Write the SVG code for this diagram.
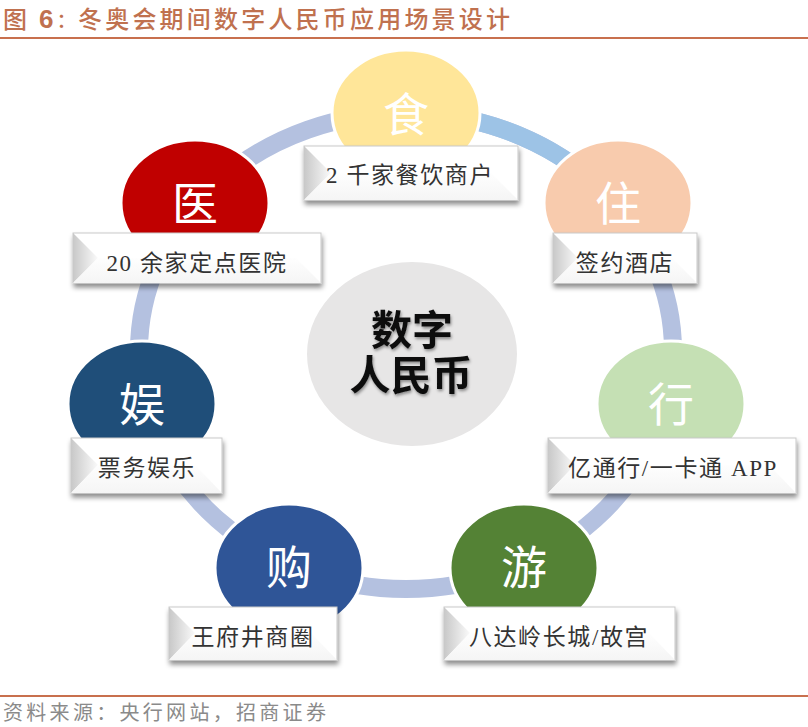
<svg xmlns="http://www.w3.org/2000/svg" width="808" height="727" viewBox="0 0 808 727">
<style>
text{font-family:"Liberation Serif","Noto Sans CJK SC",sans-serif}
.ring{fill:none;stroke:#B4C1E0;stroke-width:18}
.node{stroke:#fff;stroke-width:3}
.glyph{font-family:"Noto Sans CJK SC",sans-serif;font-size:46px;fill:#fff;text-anchor:middle}
.lab{font-size:23px;fill:#333;text-anchor:middle;letter-spacing:1.6px}
.box{fill:#fff;stroke:#c9c9c9;stroke-width:1;filter:url(#sh)}
.rule{fill:#C8704E}
</style>
<defs>
<filter id="sh" x="-10%" y="-20%" width="120%" height="150%"><feDropShadow dx="1" dy="4" stdDeviation="2.5" flood-color="#000" flood-opacity=".45"/></filter>
<filter id="ts" x="-10%" y="-10%" width="120%" height="130%"><feDropShadow dx="1" dy="2" stdDeviation="1.5" flood-color="#000" flood-opacity=".4"/></filter>
<linearGradient id="lg" x1="0" x2="1" y1="0" y2="0"><stop offset="0" stop-color="#c8c8c8"/><stop offset="1" stop-color="#fafafa"/></linearGradient>
<linearGradient id="bg" x1="0" x2="0" y1="0" y2="1"><stop offset="0" stop-color="#fefefe"/><stop offset="1" stop-color="#f5f5f5"/></linearGradient>
</defs>
<rect width="808" height="727" fill="#fff"/>
<rect class="rule" x="0" y="37" width="808" height="2"/>
<rect class="rule" x="0" y="695" width="808" height="2"/>
<text x="3" y="28" font-size="24" fill="#C0714F" font-weight="500"><tspan letter-spacing="3">图 </tspan><tspan font-family="Liberation Sans" font-size="26" font-weight="700" letter-spacing="3">6</tspan><tspan font-size="20" letter-spacing="0">：</tspan><tspan x="78" letter-spacing="3.2">冬奥会期间数字人民币应用场景设计</tspan></text>
<text x="3" y="720" font-size="20" fill="#8a8a8a" letter-spacing="3.3">资料来源：央行网站，招商证券</text>
<g id="connectors">
<ellipse class="ring" cx="406" cy="351" rx="267" ry="238"/>
<path d="M406 113A267 238 0 0 1 615 203" fill="none" stroke="#9DC3E6" stroke-width="18"/>
</g>
<g id="center"><ellipse cx="412" cy="354" rx="105" ry="92" fill="#E7E6E6"/>
<text font-weight="700" font-size="41" fill="#111" text-anchor="middle" filter="url(#ts)" style="font-family:'Noto Sans CJK SC',sans-serif"><tspan x="412" y="345">数字</tspan><tspan x="411" y="390">人民币</tspan></text></g>
<g id="node-shi"><ellipse class="node" cx="406" cy="113" rx="74" ry="63" fill="#FFE699"/><text class="glyph" x="406" y="131">食</text>
<rect class="box" x="304" y="146" width="214" height="54"/><path d="M304 146L331 173L304 200Z" fill="url(#lg)"/><path d="M304 200L331 173H491L518 200Z" fill="url(#bg)"/><text class="lab" x="410" y="183">2 千家餐饮商户</text></g>
<g id="node-zhu"><ellipse class="node" cx="618" cy="203" rx="74" ry="63" fill="#F8CBAD"/><text class="glyph" x="618" y="220">住</text>
<rect class="box" x="553" y="233" width="144" height="50"/><path d="M553 233L578 258L553 283Z" fill="url(#lg)"/><path d="M553 283L578 258H672L697 283Z" fill="url(#bg)"/><text class="lab" x="625" y="271">签约酒店</text></g>
<g id="node-xing"><ellipse class="node" cx="671" cy="404" rx="74" ry="63" fill="#C5E0B4"/><text class="glyph" x="671" y="421">行</text>
<rect class="box" x="548" y="438" width="248" height="55"/><path d="M548 438L575 465L548 493Z" fill="url(#lg)"/><path d="M548 493L575 465H769L796 493Z" fill="url(#bg)"/><text class="lab" x="673" y="476">亿通行/一卡通 APP</text></g>
<g id="node-you"><ellipse class="node" cx="524" cy="568" rx="74" ry="64" fill="#548235"/><text class="glyph" x="524" y="584">游</text>
<rect class="box" x="444" y="607" width="231" height="53"/><path d="M444 607L470 633L444 660Z" fill="url(#lg)"/><path d="M444 660L470 633H649L675 660Z" fill="url(#bg)"/><text class="lab" x="559" y="645">八达岭长城/故宫</text></g>
<g id="node-gou"><ellipse class="node" cx="289" cy="568" rx="74" ry="64" fill="#2F5597"/><text class="glyph" x="289" y="584">购</text>
<rect class="box" x="169" y="607" width="168" height="53"/><path d="M169 607L195 633L169 660Z" fill="url(#lg)"/><path d="M169 660L195 633H311L337 660Z" fill="url(#bg)"/><text class="lab" x="253" y="645">王府井商圈</text></g>
<g id="node-yu"><ellipse class="node" cx="142" cy="404" rx="74" ry="63" fill="#1F4E79"/><text class="glyph" x="142" y="421">娱</text>
<rect class="box" x="71" y="438" width="151" height="55"/><path d="M71 438L98 465L71 493Z" fill="url(#lg)"/><path d="M71 493L98 465H195L222 493Z" fill="url(#bg)"/><text class="lab" x="147" y="476">票务娱乐</text></g>
<g id="node-yi"><ellipse class="node" cx="195" cy="203" rx="74" ry="63" fill="#C00000"/><text class="glyph" x="195" y="220">医</text>
<rect class="box" x="73" y="233" width="248" height="50"/><path d="M73 233L98 258L73 283Z" fill="url(#lg)"/><path d="M73 283L98 258H296L321 283Z" fill="url(#bg)"/><text class="lab" x="197" y="271">20 余家定点医院</text></g>
</svg>
